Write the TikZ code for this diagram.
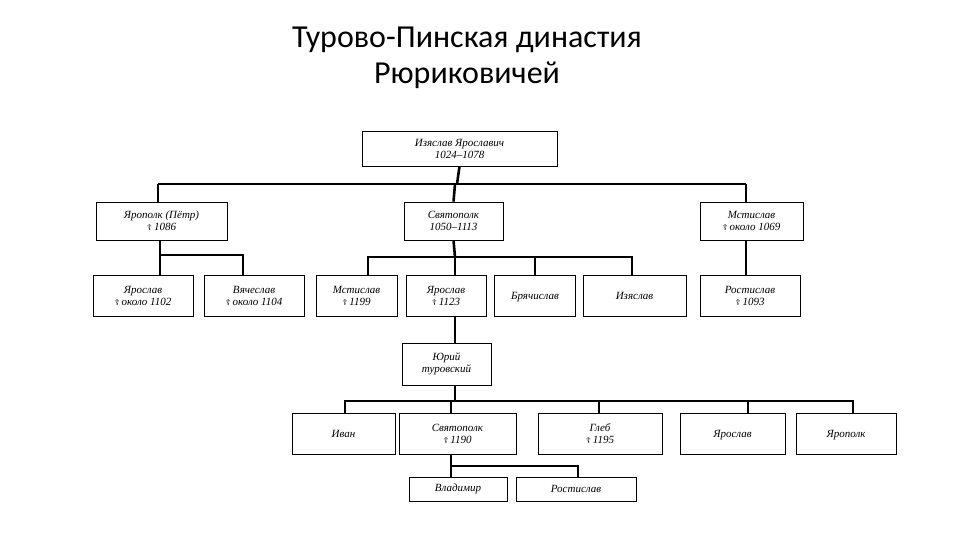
\documentclass[tikz,border=0pt]{standalone}
\usepackage{fontspec}
\setmainfont{Liberation Serif}
\newfontfamily\titlef{Carlito}
\newfontfamily\crossf{DejaVu Sans}
\newcommand{\dd}{{\crossf\upshape\fontsize{8}{8}\selectfont ☦}}
\begin{document}
\begin{tikzpicture}[x=1pt,y=-1pt,
  bx/.style={draw,line width=0.8pt,align=center,font=\itshape\fontsize{11}{12}\selectfont,inner sep=0pt},
  ln/.style={line width=2.6pt}]
\useasboundingbox (0,0) rectangle (960,540);
\node[font=\titlef\fontsize{32}{36}\selectfont,align=center] (title) at (467,58) {Турово-Пинская династия\\Рюриковичей};
\newcommand{\bxx}[6]{\node[bx,minimum width=#4-#3,minimum height=#6-#5] (#1) at ({(#3+#4)/2},{(#5+#6)/2}) {#2};}
\bxx{iz}{Изяслав Ярославич\\1024--1078}{362}{557}{131}{166}
\bxx{yp}{Ярополк (Пётр)\\\dd\,1086}{96}{227}{202}{240}
\bxx{sv}{Святополк\\1050--1113}{404}{503}{202}{240}
\bxx{ms}{Мстислав\\\dd\,около 1069}{700}{803}{202}{240}
\bxx{yr1}{Ярослав\\\dd\,около 1102}{93}{193}{275}{316}
\bxx{vy}{Вячеслав\\\dd\,около 1104}{204}{304}{275}{316}
\bxx{ms2}{Мстислав\\\dd\,1199}{316}{397}{275}{316}
\bxx{yr2}{Ярослав\\\dd\,1123}{406}{486}{275}{316}
\node[bx,minimum width=81,minimum height=41,anchor=north,text height=11] (br) at (535,275) {\strut Брячислав};
\node[bx,minimum width=103,minimum height=41,anchor=north,text height=11] (iz2) at (634.5,275) {\strut Изяслав};
\bxx{ro}{Ростислав\\\dd\,1093}{700}{800}{275}{316}
\bxx{yu}{Юрий\\туровский}{402}{491}{343}{385}
\node[bx,minimum width=103,minimum height=41,anchor=north,text height=11] (iv) at (343.5,413) {\strut Иван};
\bxx{sv2}{Святополк\\\dd\,1190}{399}{516}{413}{454}
\bxx{gl}{Глеб\\\dd\,1195}{538}{662}{413}{454}
\node[bx,minimum width=105,minimum height=41,anchor=north,text height=11] (yr3) at (732.5,413) {\strut Ярослав};
\node[bx,minimum width=100,minimum height=41,anchor=north,text height=11] (yp2) at (846,413) {\strut Ярополк};
\bxx{vl}{Владимир}{409}{507}{477}{501}
\bxx{rs}{Ростислав}{516}{636}{477}{501}
% connectors
\coordinate (b1) at (457,184);
\draw[ln] (iz.south) -- (457,184);
\draw[ln] (158,184) -- (746,184);
\draw[ln] (158,184) -- (158,202);
\draw[ln] (455,184) -- (sv.north);
\draw[ln] (746,184) -- (746,202);
\draw[ln] (160,240) -- (160,255) -- (243,255) -- (243,275);
\draw[ln] (160,255) -- (160,275);
\draw[ln] (sv.south) -- (455,257);
\draw[ln] (368,275) -- (368,257) -- (632,257) -- (632,275);
\draw[ln] (455,257) -- (455,275);
\draw[ln] (535,257) -- (535,275);
\draw[ln] (746,240) -- (746,275);
\draw[ln] (455,316) -- (455,343);
\draw[ln] (455,385) -- (455,401);
\draw[ln] (345,413) -- (345,401) -- (853,401) -- (853,413);
\draw[ln] (451,401) -- (451,413);
\draw[ln] (599,401) -- (599,413);
\draw[ln] (748,401) -- (748,413);
\draw[ln] (451,454) -- (451,477);
\draw[ln] (451,466) -- (578,466) -- (578,477);
\end{tikzpicture}
\end{document}
